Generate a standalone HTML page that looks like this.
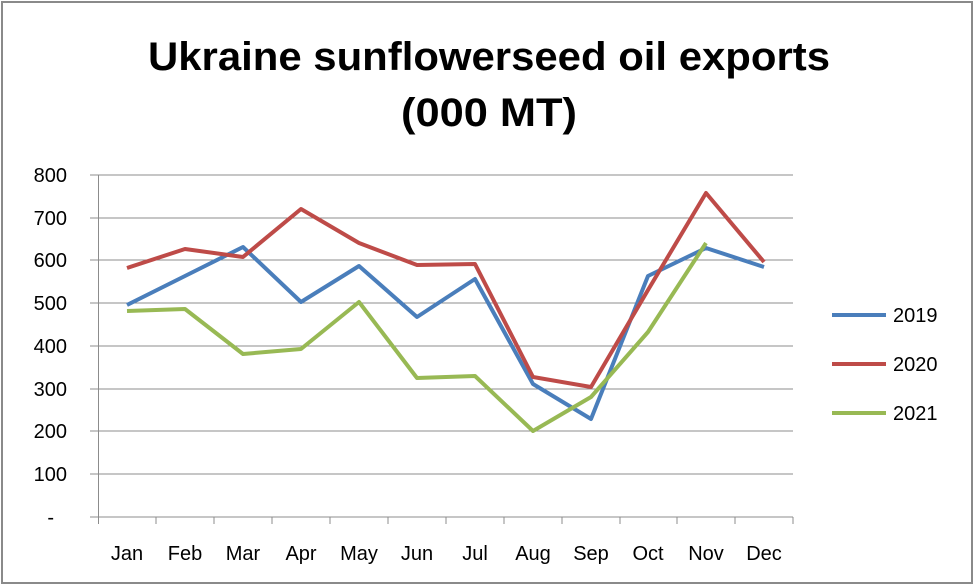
<!DOCTYPE html>
<html><head><style>
html,body{margin:0;padding:0;background:#fff;}
svg{display:block;font-family:"Liberation Sans",Calibri,sans-serif;}
</style></head><body>
<svg width="975" height="587" viewBox="0 0 975 587">
<rect x="2" y="2" width="970" height="581" fill="#fff" stroke="#8a8a8a" stroke-width="2"/>
<text x="148" y="70" textLength="682" lengthAdjust="spacingAndGlyphs" font-size="40" font-weight="bold" fill="#000">Ukraine sunflowerseed oil exports</text>
<text x="401" y="126" textLength="176" lengthAdjust="spacingAndGlyphs" font-size="40" font-weight="bold" fill="#000">(000 MT)</text>
<g stroke="#8c8c8c" stroke-width="1">
<line x1="90" y1="175" x2="793" y2="175"/>
<line x1="90" y1="218" x2="793" y2="218"/>
<line x1="90" y1="260" x2="793" y2="260"/>
<line x1="90" y1="303" x2="793" y2="303"/>
<line x1="90" y1="346" x2="793" y2="346"/>
<line x1="90" y1="389" x2="793" y2="389"/>
<line x1="90" y1="431" x2="793" y2="431"/>
<line x1="90" y1="474" x2="793" y2="474"/>
<line x1="90" y1="517" x2="793" y2="517"/>
<line x1="98.5" y1="175" x2="98.5" y2="524"/>
<line x1="156" y1="517" x2="156" y2="524"/><line x1="214" y1="517" x2="214" y2="524"/>
<line x1="272" y1="517" x2="272" y2="524"/><line x1="330" y1="517" x2="330" y2="524"/>
<line x1="388" y1="517" x2="388" y2="524"/><line x1="446" y1="517" x2="446" y2="524"/>
<line x1="504" y1="517" x2="504" y2="524"/><line x1="562" y1="517" x2="562" y2="524"/>
<line x1="620" y1="517" x2="620" y2="524"/><line x1="677" y1="517" x2="677" y2="524"/>
<line x1="735" y1="517" x2="735" y2="524"/><line x1="793" y1="517" x2="793" y2="524"/>
</g>
<g font-size="20" fill="#000" text-anchor="end">
<text x="67" y="182">800</text><text x="67" y="225">700</text><text x="67" y="267">600</text>
<text x="67" y="310">500</text><text x="67" y="353">400</text><text x="67" y="396">300</text>
<text x="67" y="438">200</text><text x="67" y="481">100</text><text x="54" y="524">-</text>
</g>
<g font-size="20" fill="#000" text-anchor="middle">
<text x="127" y="560">Jan</text><text x="185" y="560">Feb</text><text x="243" y="560">Mar</text>
<text x="301" y="560">Apr</text><text x="359" y="560">May</text><text x="417" y="560">Jun</text>
<text x="475" y="560">Jul</text><text x="533" y="560">Aug</text><text x="591" y="560">Sep</text>
<text x="648" y="560">Oct</text><text x="706" y="560">Nov</text><text x="764" y="560">Dec</text>
</g>
<g fill="none" stroke-width="4" stroke-linejoin="round">
<polyline stroke="#4a7ebb" points="127,305 185,276 243,247 301,302 359,266 417,317 475,279 533,384 591,419 648,276 706,248 764,267"/>
<polyline stroke="#be4b48" points="127,268 185,249 243,257 301,209 359,243 417,265 475,264 533,377 591,387 648,290 706,193 764,262"/>
<polyline stroke="#98b954" points="127,311 185,309 243,354 301,349 359,302 417,378 475,376 533,431 591,397 648,332 706,243"/>
</g>
<g stroke-width="4">
<line x1="832" y1="315" x2="886" y2="315" stroke="#4a7ebb"/>
<line x1="832" y1="364" x2="886" y2="364" stroke="#be4b48"/>
<line x1="832" y1="413" x2="886" y2="413" stroke="#98b954"/>
</g>
<g font-size="20" fill="#000">
<text x="893" y="322">2019</text><text x="893" y="371">2020</text><text x="893" y="420">2021</text>
</g>
</svg>
</body></html>
